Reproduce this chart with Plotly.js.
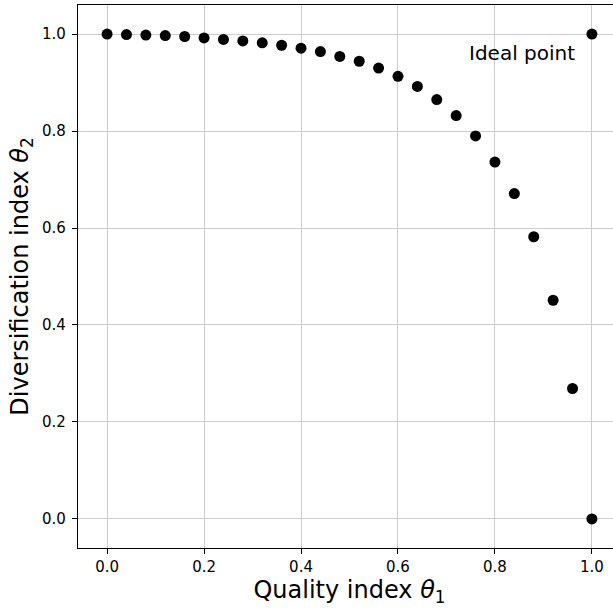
<!DOCTYPE html>
<html>
<head>
<meta charset="utf-8">
<script src="https://cdn.plot.ly/plotly-3.0.1.min.js"></script>
<style>
html,body{margin:0;padding:0;overflow:hidden;background:#fff;}
#chart{width:625px;height:610px;}
</style>
</head>
<body>
<div id="chart"></div>
<script>
// Pareto front points (quality index theta1, diversification index theta2)
const theta1 = [0.00, 0.04, 0.08, 0.12, 0.16, 0.20, 0.24, 0.28, 0.32, 0.36, 0.40, 0.44, 0.48,
                0.52, 0.56, 0.60, 0.64, 0.68, 0.72, 0.76, 0.80, 0.84, 0.88, 0.92, 0.96];
const theta2 = [1.000, 0.999, 0.998, 0.997, 0.995, 0.992, 0.989, 0.986, 0.982, 0.977, 0.971, 0.964, 0.954,
                0.944, 0.930, 0.913, 0.892, 0.865, 0.832, 0.790, 0.736, 0.671, 0.582, 0.451, 0.269];
// Extreme points
const extraX = [1.0, 1.0];
const extraY = [1.0, 0.0];
const tickVals = [0.0, 0.2, 0.4, 0.6, 0.8, 1.0];
const tickText = ["0.0", "0.2", "0.4", "0.6", "0.8", "1.0"];
const annText = "Ideal point";

const font = "DejaVu Sans, sans-serif";
const traces = [
  {x: theta1.concat(extraX), y: theta2.concat(extraY), mode: "markers", type: "scatter",
   marker: {color: "#000000", size: 11}, hoverinfo: "skip", cliponaxis: false}
];
const axisCommon = {
  tickvals: tickVals, ticktext: tickText, ticks: "outside", ticklen: 5, tickwidth: 1,
  tickcolor: "#000", showline: true, linecolor: "#000", linewidth: 1.2, mirror: true,
  showgrid: true, gridcolor: "#cccccc", gridwidth: 1, zeroline: false,
  tickfont: {family: font, size: 15, color: "#000"}, layer: "above traces"
};
const layout = {
  width: 625, height: 610,
  margin: {l: 78, r: 4, t: 5, b: 62},
  paper_bgcolor: "#fff", plot_bgcolor: "#fff",
  showlegend: false,
  xaxis: Object.assign({}, axisCommon, {
    range: [-0.06, 1.06],
    title: {text: "Quality index <i>θ</i><sub>1</sub>", font: {family: font, size: 24, color: "#000"}, standoff: 5}
  }),
  yaxis: Object.assign({}, axisCommon, {
    range: [-0.06, 1.06], ticklabelstandoff: 3,
    title: {text: "Diversification index <i>θ</i><sub>2</sub>", font: {family: font, size: 24, color: "#000"}, standoff: 6}
  }),
  annotations: [{x: 0.749, y: 0.962, xref: "x", yref: "y", text: annText, showarrow: false,
    xanchor: "left", yanchor: "middle", xshift: -3, font: {family: font, size: 20, color: "#000"}}]
};
Plotly.newPlot("chart", traces, layout, {displayModeBar: false, staticPlot: true});
</script>
</body>
</html>
